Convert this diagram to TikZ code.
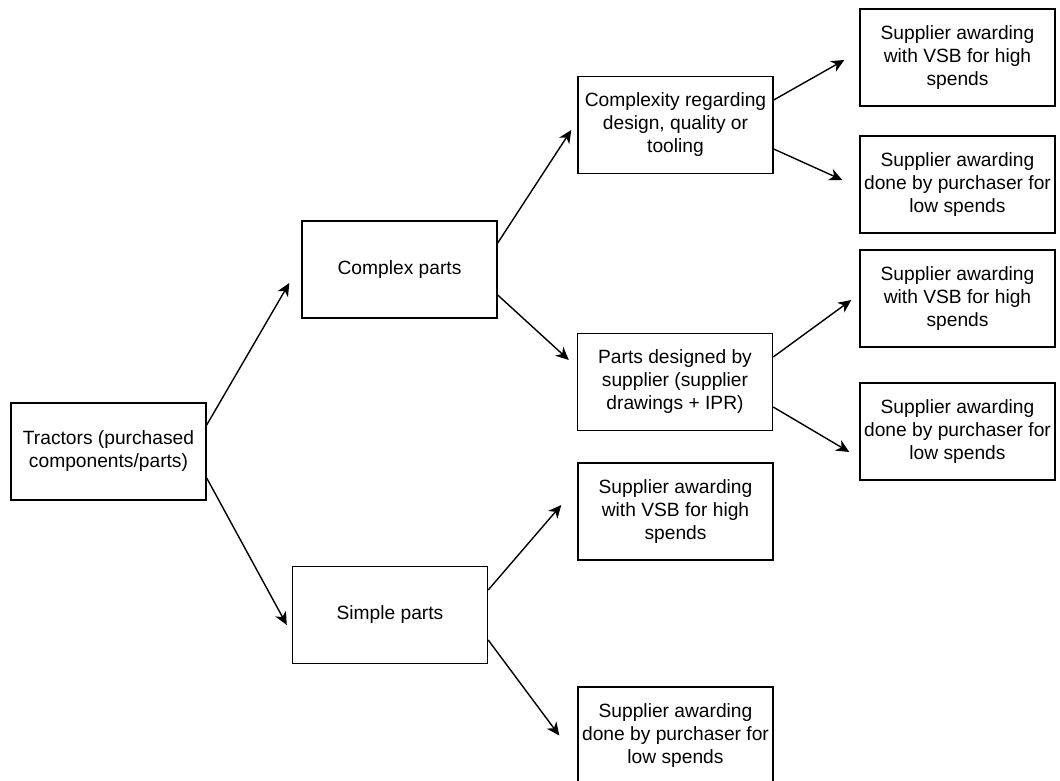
\documentclass[tikz,border=0pt]{standalone}
\usepackage{fontspec}
\setmainfont{Liberation Sans}
\usetikzlibrary{calc,arrows.meta}

\begin{document}
\begin{tikzpicture}[x=0.5pt,y=-0.5pt,>={Stealth[length=6.5pt,width=6pt,inset=2pt]},
  box/.style={draw,line width=0.7pt,minimum width=97.5pt,minimum height=48.5pt,align=center,inner sep=1.5pt,font=\fontsize{9.6}{11.5}\selectfont},
  link/.style={->,line width=0.7pt}]
\useasboundingbox (0,0) rectangle (1060,781);
% first and second level
\node[box] (tractors) at (108.5,451.5) {Tractors (purchased\\components/parts)};
\node[box] (complex) at (399.5,269.5) {Complex parts};
\node[box] (simple) at (390,615) {Simple parts};
% third level
\node[box] (design) at (675.5,125) {Complexity regarding\\design, quality or\\tooling};
\node[box] (supdesign) at (675,382) {Parts designed by\\supplier (supplier\\drawings + IPR)};
\node[box] (simplevsb) at (675.5,511.5) {Supplier awarding\\with VSB for high\\spends};
\node[box] (simplebuy) at (675.5,735.5) {Supplier awarding\\done by purchaser for\\low spends};
% awarding boxes on the right
\node[box] (designvsb) at (957.5,57.5) {Supplier awarding\\with VSB for high\\spends};
\node[box] (designbuy) at (957.5,184.5) {Supplier awarding\\done by purchaser for\\low spends};
\node[box] (supvsb) at (957.5,298.5) {Supplier awarding\\with VSB for high\\spends};
\node[box] (supbuy) at (957.5,431.5) {Supplier awarding\\done by purchaser for\\low spends};

\draw[link] ($(tractors.east)+(0,-26.5)$) -- ($(complex.west)+(-12,13.5)$);
\draw[link] ($(tractors.east)+(0,26.5)$) -- ($(simple.west)+(-5,10)$);
\draw[link] ($(complex.east)+(0,-26.5)$) -- ($(design.west)+(-6,5)$);
\draw[link] ($(complex.east)+(0,25.5)$) -- ($(supdesign.west)+(-8,-22)$);
\draw[link] ($(design.east)+(0,-25)$) -- ($(designvsb.west)+(-15,2.5)$);
\draw[link] ($(design.east)+(0,24)$) -- ($(designbuy.west)+(-17,-4.5)$);
\draw[link] ($(supdesign.east)+(0,-25)$) -- ($(supvsb.west)+(-8,1.5)$);
\draw[link] ($(supdesign.east)+(0,25)$) -- ($(supbuy.west)+(-10,20.5)$);
\draw[link] ($(simple.east)+(0,-25)$) -- ($(simplevsb.west)+(-16,-6.5)$);
\draw[link] ($(simple.east)+(0,25)$) -- ($(simplebuy.west)+(-18,0)$);
\end{tikzpicture}
\end{document}
